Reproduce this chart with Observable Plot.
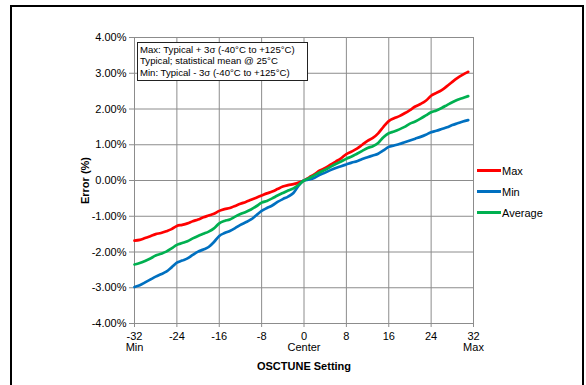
<!DOCTYPE html>
<html>
<head>
<meta charset="utf-8">
<script src="https://cdn.jsdelivr.net/npm/d3@7"></script>
<script src="https://cdn.jsdelivr.net/npm/@observablehq/plot@0.6"></script>
<style>
  html, body { margin: 0; padding: 0; background: #fff; }
  #wrap { position: relative; width: 586px; height: 385px; overflow: hidden; font-family: "Liberation Sans", Arial, sans-serif; }
  #frame { position: absolute; left: 10px; top: 5px; width: 570px; height: 400px; border: 2px solid #000; pointer-events: none; }
  #note { position: absolute; left: 137px; top: 42px; width: 165px; height: 36px; border: 1.5px solid #222; background: #fff;
          font-size: 9.6px; line-height: 11.4px; padding: 1px 2px 0 2px; color: #000; white-space: nowrap; }
  #legend { position: absolute; left: 477px; top: 160px; font-size: 11px; color: #000; }
  .li { display: flex; align-items: center; height: 21px; }
  .sw { width: 24px; height: 3px; margin-right: 1px; }
  #chart svg [aria-label="y-axis label"] text, #chart svg [aria-label="x-axis label"] text { font-weight: bold; }
</style>
</head>
<body>
<div id="wrap">
  <div id="chart"></div>
  <div id="frame"></div>
  <div id="note"></div>
  <div id="legend"></div>
</div>
<script>
const settings = d3.range(-32, 32);
const maxErr = [-1.68,-1.66,-1.61,-1.56,-1.50,-1.47,-1.42,-1.36,-1.27,-1.24,-1.20,-1.14,-1.09,-1.03,-0.98,-0.93,
  -0.85,-0.80,-0.77,-0.71,-0.65,-0.60,-0.54,-0.48,-0.42,-0.36,-0.31,-0.24,-0.17,-0.13,-0.10,-0.06,
  0.00,0.09,0.18,0.28,0.35,0.44,0.53,0.62,0.74,0.81,0.89,1.00,1.11,1.19,1.32,1.50,
  1.66,1.74,1.80,1.88,1.97,2.07,2.14,2.23,2.37,2.45,2.53,2.64,2.76,2.87,2.96,3.04];
const minErr = [-2.98,-2.93,-2.85,-2.77,-2.69,-2.62,-2.55,-2.43,-2.30,-2.24,-2.18,-2.08,-1.99,-1.93,-1.86,-1.72,
  -1.55,-1.47,-1.41,-1.33,-1.24,-1.17,-1.09,-0.97,-0.85,-0.77,-0.70,-0.60,-0.52,-0.45,-0.35,-0.14,
  0.00,0.03,0.08,0.16,0.22,0.29,0.35,0.40,0.45,0.50,0.54,0.60,0.65,0.70,0.75,0.84,
  0.94,0.98,1.02,1.07,1.12,1.17,1.22,1.28,1.35,1.39,1.44,1.49,1.55,1.60,1.65,1.69];
const avgErr = [-2.35,-2.31,-2.25,-2.18,-2.10,-2.05,-1.99,-1.90,-1.80,-1.75,-1.70,-1.62,-1.55,-1.49,-1.43,-1.34,
  -1.20,-1.13,-1.09,-1.01,-0.94,-0.88,-0.81,-0.72,-0.62,-0.57,-0.50,-0.42,-0.35,-0.28,-0.22,-0.12,
  0.00,0.07,0.15,0.23,0.30,0.38,0.46,0.53,0.61,0.67,0.75,0.83,0.91,0.96,1.05,1.21,
  1.32,1.37,1.43,1.50,1.59,1.65,1.73,1.82,1.91,1.96,2.03,2.11,2.19,2.26,2.31,2.36];

const seriesNames = ["Max", "Min", "Average"];
const seriesColors = ["#ff0000", "#0070c0", "#00b050"];
const xTicks = [-32, -24, -16, -8, 0, 8, 16, 24, 32];
const xTickSub = {"-32": "Min", "0": "Center", "32": "Max"};
const yTicks = [-4, -3, -2, -1, 0, 1, 2, 3, 4];
const noteLines = ["Max: Typical + 3σ (-40°C to +125°C)", "Typical; statistical mean @ 25°C", "Min: Typical - 3σ (-40°C to +125°C)"];

const allSeries = [maxErr, minErr, avgErr];
const rows = [];
allSeries.forEach((vals, k) => vals.forEach((v, i) => rows.push({s: seriesNames[k], x: settings[i], y: v})));

const grid = "#8c8c8c";
const chart = Plot.plot({
  width: 586, height: 385,
  marginLeft: 134, marginRight: 113, marginTop: 37, marginBottom: 62,
  style: {fontFamily: '"Liberation Sans", Arial, sans-serif', fontSize: "11px", color: "#000", background: "transparent"},
  x: {domain: [-32, 32]},
  y: {domain: [-4, 4]},
  color: {domain: seriesNames, range: seriesColors},
  marks: [
    Plot.gridX(xTicks, {stroke: grid, strokeOpacity: 1, strokeWidth: 1}),
    Plot.gridY(yTicks, {stroke: grid, strokeOpacity: 1, strokeWidth: 1}),
    Plot.axisY(yTicks, {tickSize: 5, tickPadding: 3, stroke: grid, tickFormat: d => d.toFixed(2) + "%",
      label: "Error (%)", labelAnchor: "center", labelArrow: "none", labelOffset: 53}),
    Plot.axisX(xTicks, {tickSize: 4, tickPadding: 5, stroke: grid,
      tickFormat: d => (xTickSub[String(d)] ? d + "\n" + xTickSub[String(d)] : String(d)),
      label: "OSCTUNE Setting", labelAnchor: "center", labelArrow: "none", labelOffset: 46}),
    Plot.line(rows, {x: "x", y: "y", z: "s", stroke: "s", strokeWidth: 2.7, curve: "monotone-x"})
  ]
});
document.getElementById("chart").appendChild(chart);

document.getElementById("note").innerHTML = noteLines.join("<br>");
document.getElementById("legend").innerHTML = seriesNames.map((n, k) =>
  `<div class="li"><div class="sw" style="background:${seriesColors[k]}"></div><span>${n}</span></div>`).join("");
</script>
</body>
</html>
